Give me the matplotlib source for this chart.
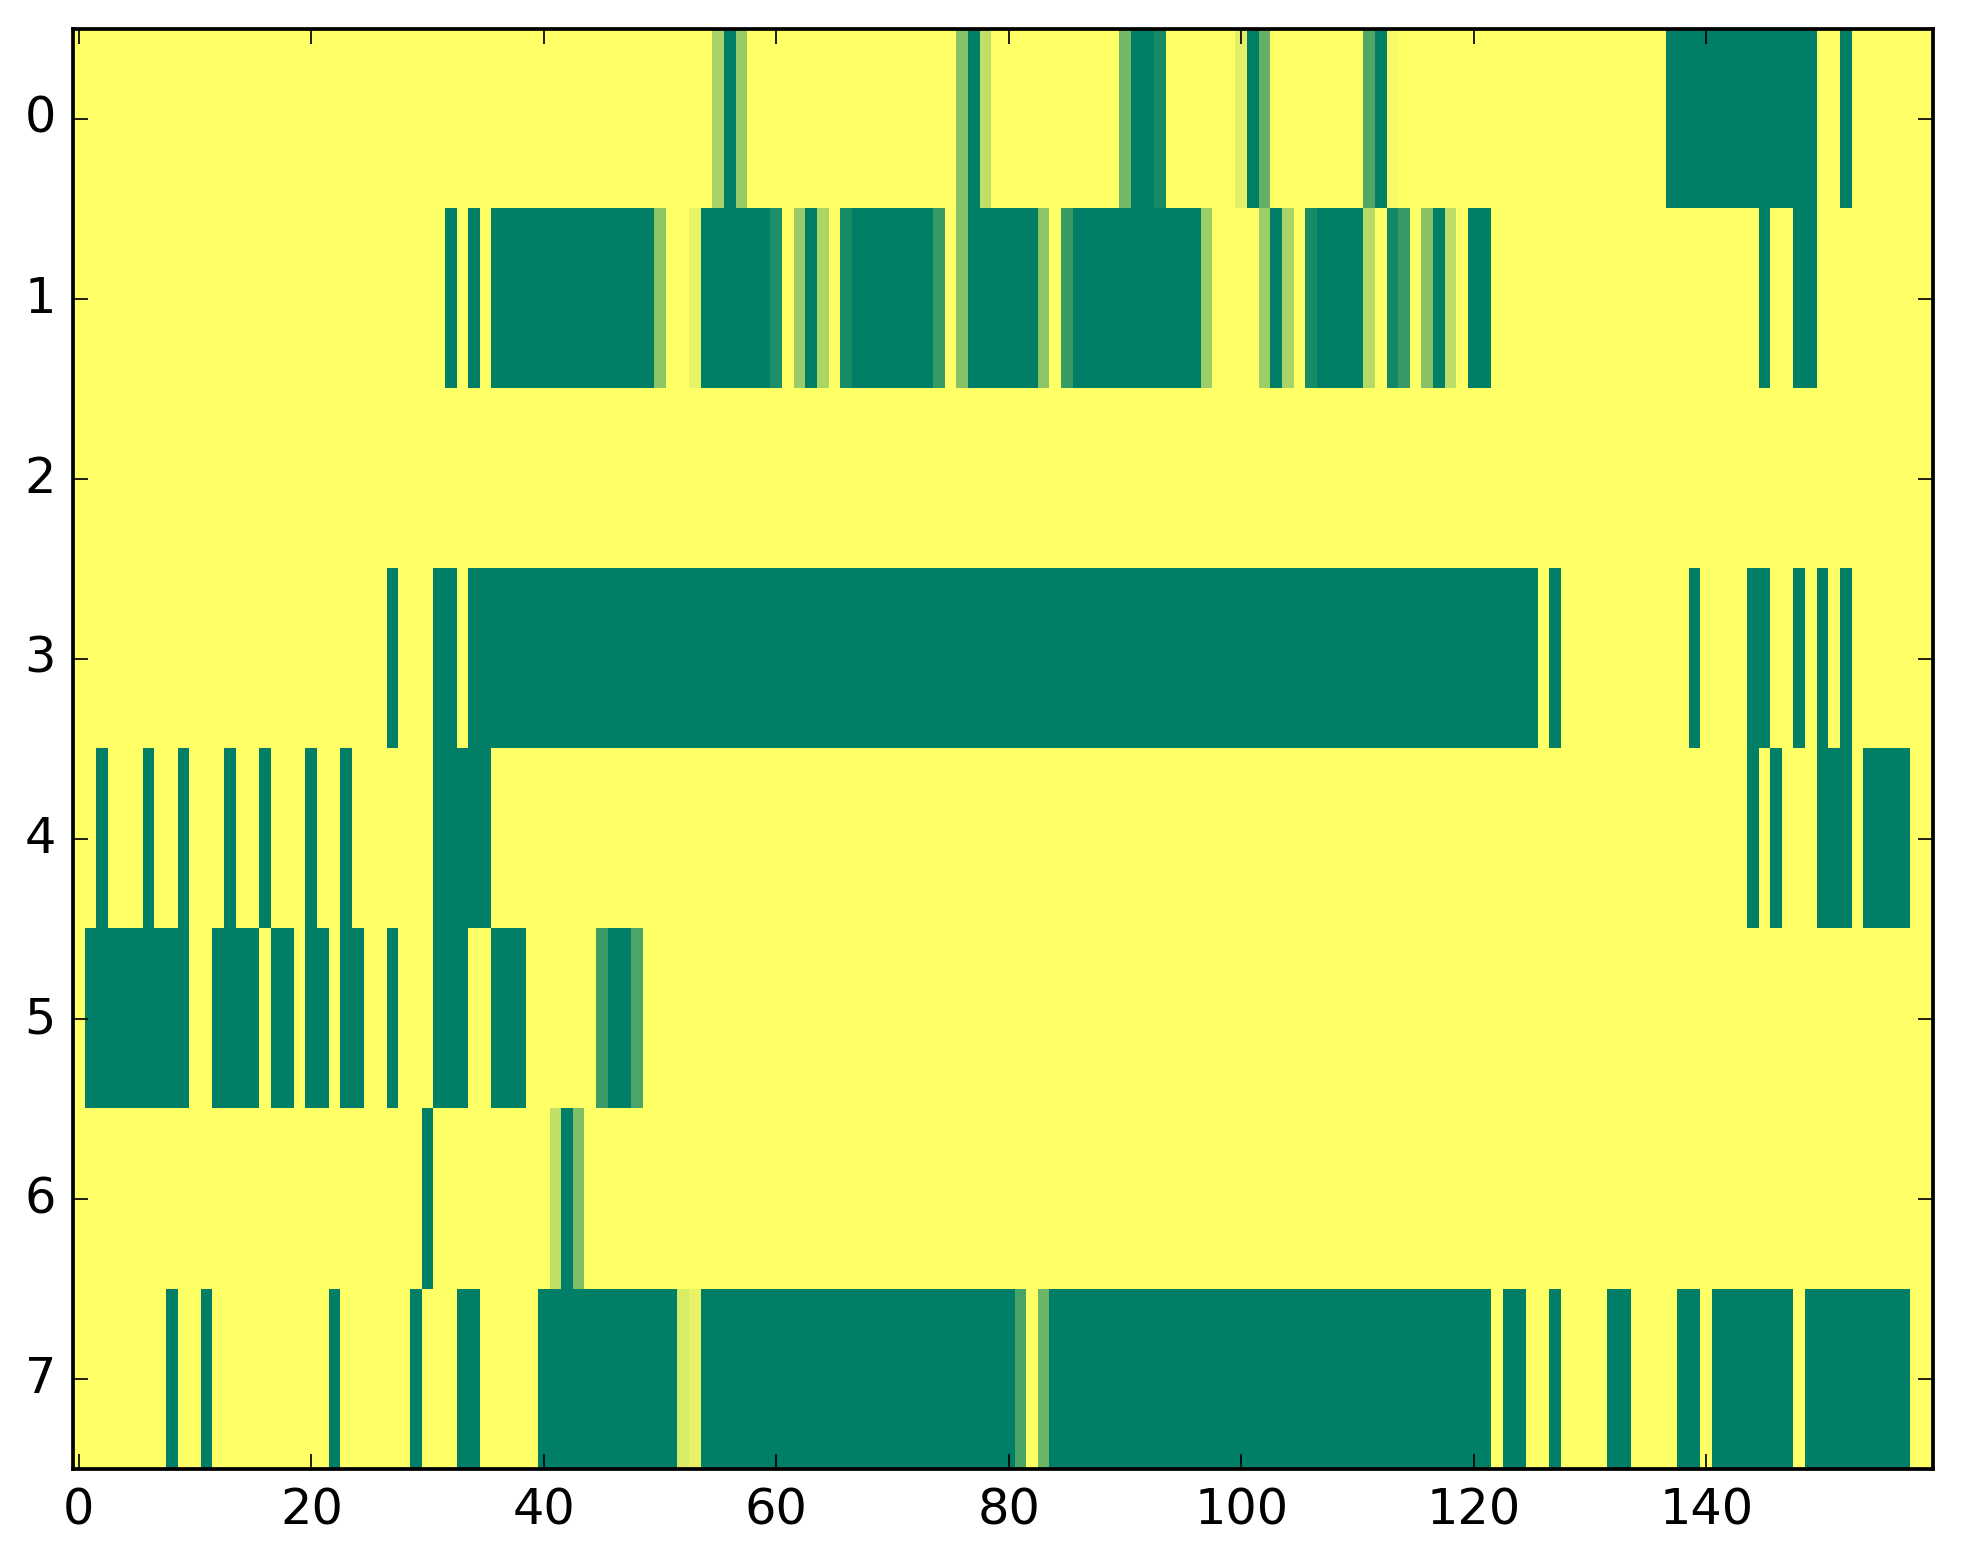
import numpy as np
import matplotlib
matplotlib.use("Agg")
import matplotlib.pyplot as plt

n_rows = 8
n_cols = 160

# runs of (first column, last column, value) for each row
row0 = [(55, 55, 0.34), (56, 56, 1), (57, 57, 0.41), (76, 76, 0.47), (77, 77, 1),
        (78, 78, 0.25), (90, 90, 0.55), (91, 92, 1), (93, 93, 0.91), (100, 100, 0.12),
        (101, 101, 1), (102, 102, 0.61), (111, 111, 0.69), (112, 112, 1),
        (113, 113, 0.04), (137, 149, 1), (152, 152, 1)]
row1 = [(32, 32, 1), (34, 34, 1), (36, 49, 1), (50, 50, 0.45), (53, 53, 0.09),
        (54, 59, 1), (60, 60, 0.88), (62, 62, 0.4), (63, 63, 1), (64, 64, 0.33),
        (66, 66, 0.91), (67, 73, 1), (74, 74, 0.78), (76, 76, 0.47), (77, 82, 1),
        (83, 83, 0.45), (85, 85, 0.78), (86, 96, 1), (97, 97, 0.39), (102, 102, 0.39),
        (103, 103, 1), (104, 104, 0.34), (106, 106, 0.91), (107, 110, 1),
        (111, 111, 0.29), (113, 113, 0.93), (114, 114, 0.78), (116, 116, 0.47),
        (117, 117, 1), (118, 118, 0.26), (120, 121, 1), (145, 145, 1), (148, 149, 1)]
row2 = []
row3 = [(27, 27, 1), (31, 32, 1), (34, 125, 1), (127, 127, 1), (139, 139, 1),
        (144, 145, 1), (148, 148, 1), (150, 150, 1), (152, 152, 1)]
row4 = [(2, 2, 1), (6, 6, 1), (9, 9, 1), (13, 13, 1), (16, 16, 1), (20, 20, 1),
        (23, 23, 1), (31, 35, 1), (144, 144, 1), (146, 146, 1), (150, 152, 1),
        (154, 157, 1)]
row5 = [(1, 9, 1), (12, 15, 1), (17, 18, 1), (20, 21, 1), (23, 24, 1), (27, 27, 1),
        (31, 33, 1), (36, 38, 1), (45, 45, 0.77), (46, 47, 1), (48, 48, 0.7)]
row6 = [(30, 30, 1), (41, 41, 0.25), (42, 42, 1), (43, 43, 0.5)]
row7 = [(8, 8, 1), (11, 11, 1), (22, 22, 1), (29, 29, 1), (33, 34, 1), (40, 51, 1),
        (52, 52, 0.15), (53, 53, 0.09), (54, 80, 1), (81, 81, 0.72), (83, 83, 0.58),
        (84, 121, 1), (123, 124, 1), (127, 127, 1), (132, 133, 1), (138, 139, 1),
        (141, 147, 1), (149, 157, 1)]

rows = [row0, row1, row2, row3, row4, row5, row6, row7]
x_ticks = [0, 20, 40, 60, 80, 100, 120, 140]
y_ticks = [0, 1, 2, 3, 4, 5, 6, 7]

grid = np.zeros((n_rows, n_cols))
for r, runs in enumerate(rows):
    for first, last, val in runs:
        grid[r, first:last + 1] = val

plt.style.use("classic")
dpi = 245.375
fig = plt.figure(figsize=(1963 / dpi, 1564 / dpi), facecolor="white")
ax = fig.add_axes([0.0372, 0.0607, 0.9475, 0.9208])
ax.imshow(grid, cmap="summer_r", vmin=0, vmax=1, aspect="auto",
          interpolation="nearest")
ax.set_xticks(x_ticks)
ax.set_yticks(y_ticks)
ax.set_xlim(-0.5, n_cols - 0.5)
ax.set_ylim(n_rows - 0.5, -0.5)
ax.tick_params(direction="in", top=True, right=True, labelsize=14.5,
               length=4.5, pad=5)
for s in ax.spines.values():
    s.set_linewidth(1.1)

fig.savefig("out.png", dpi=dpi, facecolor="white")
